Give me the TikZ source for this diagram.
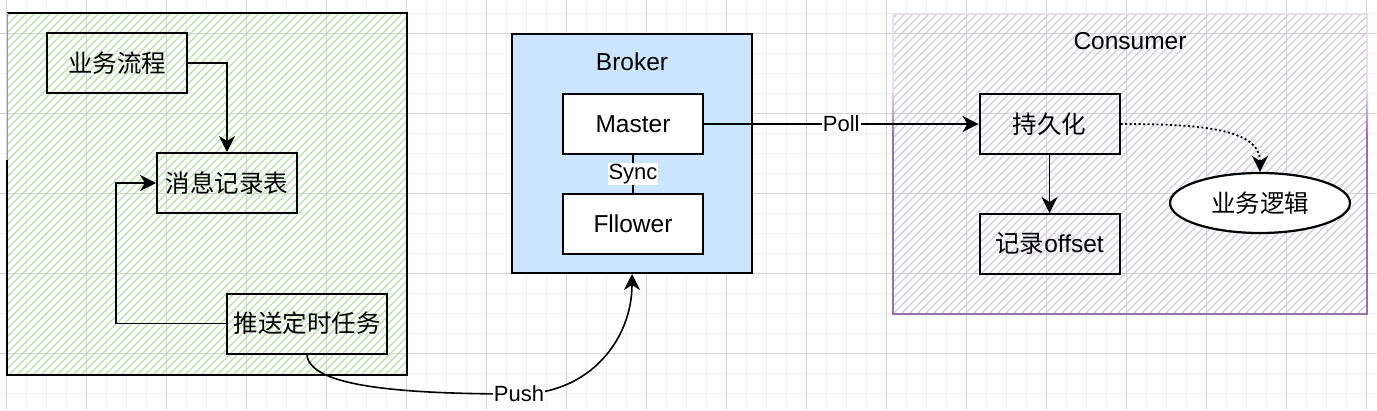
\documentclass[tikz,border=0pt]{standalone}
\usepackage{fontspec}
\setmainfont{Liberation Sans}
\newfontfamily\cjk{Noto Sans CJK SC}
\usetikzlibrary{arrows.meta,shapes.geometric}
\definecolor{gridminor}{RGB}{242,242,242}
\definecolor{gridmajor}{RGB}{212,212,212}
\definecolor{ghatch}{RGB}{186,222,166}
\definecolor{phatch}{RGB}{214,200,224}
\definecolor{pborder}{RGB}{150,115,166}
\definecolor{pfaint}{RGB}{232,222,238}
\definecolor{bfill}{RGB}{204,229,255}
\newcommand\nodefont{\fontsize{24.5}{29}\selectfont}
\newcommand\lblfont{\fontsize{22}{26}\selectfont}
\tikzset{
  box/.style={draw=black, line width=2pt, minimum width=140pt, minimum height=60pt, inner sep=0pt, font=\nodefont},
  conn/.style={draw=black, line width=1.6pt, -{Stealth[length=16pt,width=16pt,inset=5pt]}},
  lbl/.style={fill=white, inner sep=1pt, font=\lblfont},
  gline/.style={gridminor, line width=1pt},
  gmajor/.style={gridmajor, line width=1pt},
  ghl/.style={ghatch, line width=1.2pt},
  phl/.style={phatch, line width=1.2pt},
}
\begin{document}
\begin{tikzpicture}[x=1pt,y=-1pt]
\useasboundingbox (0,0) rectangle (1377,410);
\fill[white] (0,0) rectangle (1377,410);
% grid
\foreach \i in {0,...,68} { \draw[gline] ({6.7+20*\i},0) -- ++(0,410); }
\foreach \i in {0,...,19} { \draw[gline] (0,{13.3+20*\i}) -- ++(1377,0); }
\foreach \i in {0,...,17} { \draw[gmajor] ({6.7+80*\i},0) -- ++(0,410); }
\foreach \i in {0,...,4} { \draw[gmajor] (0,{33.3+80*\i}) -- ++(1377,0); }
% left container hatch
\begin{scope}
  \clip (7,13) rectangle (407,375);
  \foreach \i in {0,...,100} { \draw[ghl] ({-380+8*\i},380) -- ++(380,-380); }
\end{scope}
\draw[black, line width=2pt] (7,160) -- (7,375) -- (407,375) -- (407,13) -- (7,13);
\draw[gray!80, line width=1pt] (7,13) -- (7,160);
% consumer container hatch
\begin{scope}
  \clip (893,14) rectangle (1367,314);
  \foreach \i in {0,...,102} { \draw[phl] ({893-310+8*\i},320) -- ++(320,-320); }
\end{scope}
\draw[pfaint, line width=2.2pt] (893,14) rectangle (1367,314);
\draw[pborder, line width=2.2pt] (893,135) -- (893,314) -- (1367,314) -- (1367,135);
\shade[top color=pfaint, bottom color=pborder] (891.9,90) rectangle (894.1,135);
\shade[top color=pfaint, bottom color=pborder] (1365.9,90) rectangle (1368.1,135);
\node[font=\nodefont] (consumerlbl) at (1130,41) {Consumer};
% broker
\node[draw=black, line width=2pt, fill=bfill, minimum width=240pt, minimum height=239pt, inner sep=0pt] (broker) at (632,153.5) {};
\node[font=\nodefont] (brokerlbl) at (632,62) {Broker};
\node[box, fill=white] (master) at (633,124) {Master};
\node[box, fill=white] (fl) at (633,224) {Fllower};
% left nodes
\node[box] (biz) at (117,63) {\cjk 业务流程};
\node[box] (msg) at (227,183) {\cjk 消息记录表};
\node[box, minimum width=160pt] (push) at (307,323.5) {\cjk 推送定时任务};
% consumer nodes
\node[box] (persist) at (1049.5,124) {\cjk 持久化};
\node[box] (offset) at (1049.5,244) {{\cjk 记录}offset};
\node[draw=black, ellipse, line width=2.2pt, fill=white, minimum width=180pt, minimum height=60pt, inner sep=0pt, font=\nodefont] (logic) at (1260,203) {\cjk 业务逻辑};
% connectors
\draw[conn] (biz.east) -| (msg.north);
\draw[conn] (push.west) -- ++(-110,0) |- (msg.west);
\draw[black, line width=1.4pt] (master) -- node[lbl] (synclbl) {Sync} (fl);
\draw[conn] (master) -- node[lbl] (polllbl) {Poll} (persist);
\draw[conn] (persist) -- (offset);
\draw[conn, dash pattern=on 2pt off 2.5pt, line width=1.8pt] (persist.east) .. controls +(81,0) and +(0,-43) .. (logic.north);
\coordinate (pushpt) at (519,394);
\draw[conn] (push.south) .. controls +(2,32) and +(-119,0) .. (pushpt) .. controls +(71,0) and +(0,65) .. (broker.south);
\node[lbl] (pushlbl) at (pushpt) {Push};
\end{tikzpicture}
\end{document}
